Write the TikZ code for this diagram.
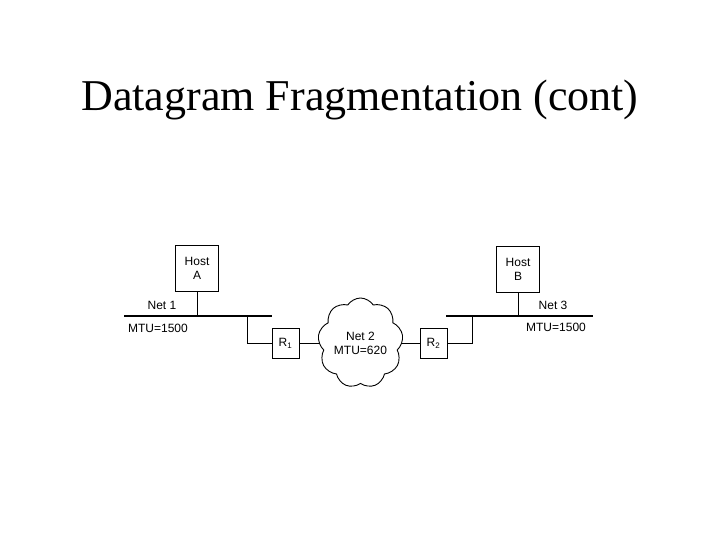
\documentclass[tikz,border=0pt]{standalone}
\usepackage{fontspec}
\setmainfont{Liberation Serif}
\setsansfont{Liberation Sans}
\usetikzlibrary{positioning,shapes.symbols,calc}
\tikzset{
  label font/.style={font=\sffamily\fontsize{12}{14}\selectfont},
  hostbox/.style={draw,line width=0.9pt,minimum width=43pt,minimum height=46pt,inner sep=0pt,
                  align=center,label font},
  routerbox/.style={draw,line width=0.9pt,minimum width=27pt,minimum height=30pt,inner sep=0pt,label font},
  netcloud/.style={cloud,draw,line width=0.9pt,cloud puffs=9,cloud puff arc=115,aspect=0.95,
                   minimum width=85pt,minimum height=90pt,inner sep=0pt,align=center,label font},
  netline/.style={line width=2.2pt},
  link/.style={line width=0.9pt},
  netlabel/.style={label font,inner sep=1pt},
}
\begin{document}
\begin{tikzpicture}[x=1pt,y=-1pt]
  \useasboundingbox (0,0) rectangle (720,540);
  \node[font=\rmfamily\fontsize{44}{50}\selectfont] (title) at (360,100) {Datagram Fragmentation (cont)};
  % net 1 side
  \coordinate (n1w) at (124,316);
  \coordinate (n1e) at (272,316);
  \coordinate (n1tap) at (247,316);
  \draw[netline] (n1w) -- (n1e);
  \node[hostbox] (hosta) at (197,268.5) {Host\\A};
  \node[netlabel] (net1) at (162,305) {Net 1};
  \node[netlabel] (mtu1) at (158,328) {MTU=1500};
  \node[routerbox] (r1) at (285.5,343.5) {R\textsubscript{1}};
  % net 2
  \node[netcloud] (net2) at (360.5,343) {Net 2\\MTU=620};
  \node[routerbox] (r2) at (433.5,343.5) {R\textsubscript{2}};
  % net 3 side
  \coordinate (n3w) at (446,316);
  \coordinate (n3e) at (593,316);
  \coordinate (n3tap) at (472,316);
  \draw[netline] (n3w) -- (n3e);
  \node[hostbox] (hostb) at (518,269.5) {Host\\B};
  \node[netlabel] (net3) at (553,305) {Net 3};
  \node[netlabel] (mtu3) at (556,327) {MTU=1500};
  % links
  \draw[link] (hosta.south) -- (hosta.south |- n1w);
  \draw[link] (n1tap) |- (r1.west);
  \draw[link] (r1.east) -- (net2.west |- r1.east);
  \draw[link] (net2.east |- r2.west) -- (r2.west);
  \draw[link] (r2.east) -| (n3tap);
  \draw[link] (hostb.south) -- (hostb.south |- n3w);
\end{tikzpicture}
\end{document}
